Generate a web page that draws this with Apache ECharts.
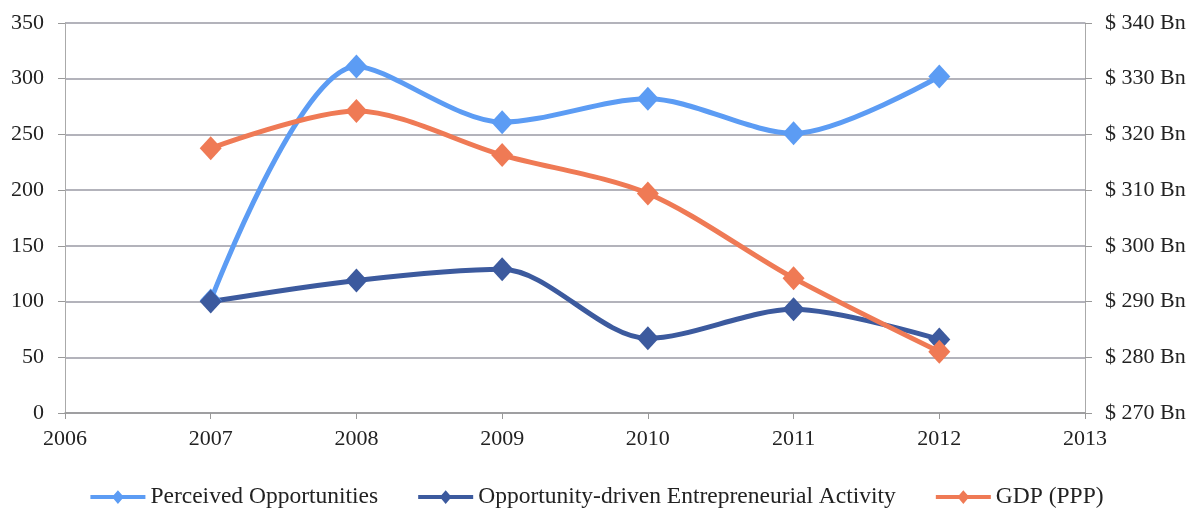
<!DOCTYPE html>
<html>
<head>
<meta charset="utf-8">
<script src="https://cdn.jsdelivr.net/npm/echarts@6/dist/echarts.min.js"></script>
<style>html,body{margin:0;padding:0;background:#fff}#c{width:1194px;height:514px}</style>
</head>
<body>
<div id="c"></div>
<script>
const years = [2007, 2008, 2009, 2010, 2011, 2012];
const perceivedOpportunities = [101, 311, 261, 282, 251, 302];
const opportunityDriven = [100, 119, 129, 67, 93, 66];
const gdpPPP = [317.5, 324.2, 316.3, 309.4, 294.2, 281.0];
const seriesNames = ['Perceived Opportunities', 'Opportunity-driven Entrepreneurial Activity', 'GDP (PPP)'];
const colors = ['#5C9CF4', '#3C5A9E', '#EF7A55'];

const pair = arr => years.map((y, i) => [y, arr[i]]);
const font = '"Liberation Serif", "DejaVu Serif", serif';
const legendIcon = 'path://M0,5H56V9H0Z M28,0L34,7L28,14L22,7Z';

const chart = echarts.init(document.getElementById('c'), null, {renderer: 'canvas'});
const mk = (name, data, color, yIdx) => ({
  name, type: 'line', data: pair(data), yAxisIndex: yIdx,
  smooth: 0.3, symbol: 'diamond', symbolSize: [22, 24],
  lineStyle: {color, width: 5}, itemStyle: {color},
  emphasis: {disabled: true}, animation: false
});
chart.setOption({
  animation: false,
  color: colors,
  textStyle: {fontFamily: font},
  grid: {left: 65, right: 109, top: 23, bottom: 101, containLabel: false},
  legend: {
    bottom: 0, left: 'center', itemWidth: 55, itemHeight: 15, itemGap: 40,
    icon: legendIcon,
    textStyle: {fontFamily: font, fontSize: 23.5, color: '#222'},
    data: seriesNames
  },
  xAxis: {
    type: 'value', min: 2006, max: 2013, interval: 1,
    axisLine: {show: true, lineStyle: {color: '#999', width: 1.5}},
    axisTick: {show: true, inside: false, length: 6, lineStyle: {color: '#999'}},
    splitLine: {show: false},
    axisLabel: {fontFamily: font, fontSize: 22, color: '#222', margin: 15, formatter: v => String(v)}
  },
  yAxis: [{
    type: 'value', min: 0, max: 350, interval: 50, position: 'left',
    axisLine: {show: true, lineStyle: {color: '#aaa', width: 1}},
    axisTick: {show: true, length: 7, lineStyle: {color: '#999'}},
    splitLine: {show: true, lineStyle: {color: '#9a9aa4', width: 1.5}},
    axisLabel: {fontFamily: font, fontSize: 22, color: '#222', margin: 21}
  }, {
    type: 'value', min: 270, max: 340, interval: 10, position: 'right',
    axisLine: {show: true, lineStyle: {color: '#aaa', width: 1}},
    axisTick: {show: true, length: 7, lineStyle: {color: '#999'}},
    splitLine: {show: false},
    axisLabel: {fontFamily: font, fontSize: 22, color: '#222', margin: 20, formatter: v => '$ ' + v + ' Bn'}
  }],
  series: [
    mk(seriesNames[0], perceivedOpportunities, colors[0], 0),
    mk(seriesNames[1], opportunityDriven, colors[1], 0),
    mk(seriesNames[2], gdpPPP, colors[2], 1)
  ]
});
</script>
</body>
</html>
